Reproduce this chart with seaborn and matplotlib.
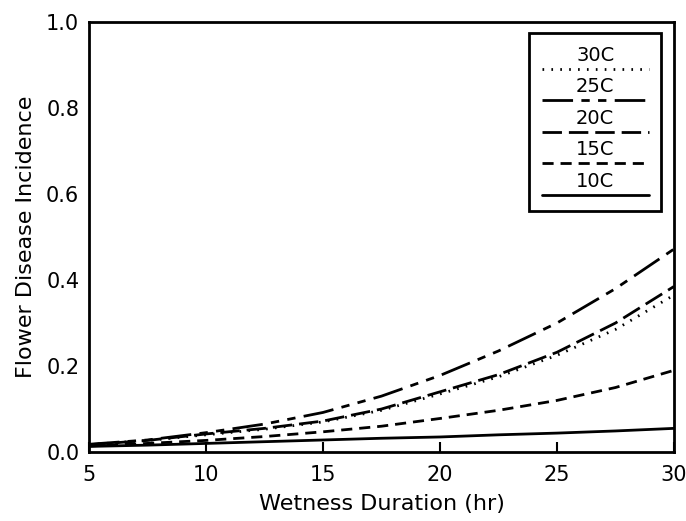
import matplotlib
matplotlib.use("Agg")
import matplotlib.pyplot as plt
import seaborn as sns
import pandas as pd
from matplotlib.lines import Line2D
from matplotlib.offsetbox import AnchoredOffsetbox, VPacker, TextArea, DrawingArea

# Data
hours = [5, 7.5, 10, 12.5, 15, 17.5, 20, 22.5, 25, 27.5, 30]
inc_30c = [0.017, 0.027, 0.040, 0.053, 0.070, 0.097, 0.135, 0.175, 0.225, 0.285, 0.365]
inc_25c = [0.018, 0.028, 0.045, 0.065, 0.092, 0.130, 0.178, 0.235, 0.300, 0.380, 0.472]
inc_20c = [0.017, 0.027, 0.042, 0.055, 0.072, 0.100, 0.140, 0.180, 0.232, 0.300, 0.385]
inc_15c = [0.014, 0.020, 0.027, 0.036, 0.047, 0.060, 0.078, 0.097, 0.120, 0.150, 0.190]
inc_10c = [0.013, 0.016, 0.020, 0.024, 0.028, 0.032, 0.035, 0.040, 0.044, 0.049, 0.055]

temps = ["30C", "25C", "20C", "15C", "10C"]
series = [inc_30c, inc_25c, inc_20c, inc_15c, inc_10c]

# line styles per temperature
dash_map = {
    "30C": (0.6, 2.6),
    "25C": (11, 3, 3, 3, 3, 3),
    "20C": (7, 2.5),
    "15C": (4, 2.5),
    "10C": "",
}

rows = []
for t, vals in zip(temps, series):
    for h, v in zip(hours, vals):
        rows.append({"hours": h, "incidence": v, "temp": t})
df = pd.DataFrame(rows)

sns.set_style("white")
plt.rcParams['font.family'] = ['DejaVu Sans']
plt.rcParams['text.color'] = 'black'
plt.rcParams['axes.labelcolor'] = 'black'
plt.rcParams['xtick.color'] = 'black'
plt.rcParams['ytick.color'] = 'black'

fig = plt.figure(figsize=(6.86, 5.21), dpi=100)
ax = fig.add_axes([0.1297, 0.1324, 0.8528, 0.8254])

sns.lineplot(data=df, x="hours", y="incidence", style="temp", dashes=dash_map,
             color="black", linewidth=2, legend=False, ax=ax)

ax.set_xlim(5, 30)
ax.set_ylim(0, 1.0)
ax.set_xticks([5, 10, 15, 20, 25, 30])
ax.set_yticks([0, 0.2, 0.4, 0.6, 0.8, 1.0])
ax.set_yticklabels(["0.0", "0.2", "0.4", "0.6", "0.8", "1.0"])
ax.tick_params(axis="x", direction="in", length=7, width=1.5, pad=9, labelsize=15,
               bottom=True, top=False)
ax.tick_params(axis="y", length=0, pad=7, labelsize=15)
ax.set_xlabel("Wetness Duration (hr)", fontsize=16, labelpad=7)
ax.set_ylabel("Flower Disease Incidence", fontsize=16, labelpad=7)
for s in ax.spines.values():
    s.set_linewidth(2)
    s.set_color("black")

# Legend: label above its line sample, framed box
entries = []
for t in temps:
    txt = TextArea(t, textprops=dict(fontsize=14))
    da = DrawingArea(77, 5)
    ln = Line2D([0, 77], [2.5, 2.5], color="black", linewidth=2)
    if dash_map[t]:
        ln.set_dashes(dash_map[t])
    da.add_artist(ln)
    entries.append(VPacker(children=[txt, da], align="center", pad=0, sep=0.5))
box = VPacker(children=entries, align="center", pad=0, sep=3.5)
leg = AnchoredOffsetbox(loc="upper right", child=box, pad=0.9, frameon=True,
                        bbox_to_anchor=(0.978, 0.974), bbox_transform=ax.transAxes,
                        borderpad=0)
leg.patch.set_boxstyle("square", pad=0)
leg.patch.set_linewidth(2)
leg.patch.set_edgecolor("black")
ax.add_artist(leg)

fig.savefig("out.png", dpi=100)
